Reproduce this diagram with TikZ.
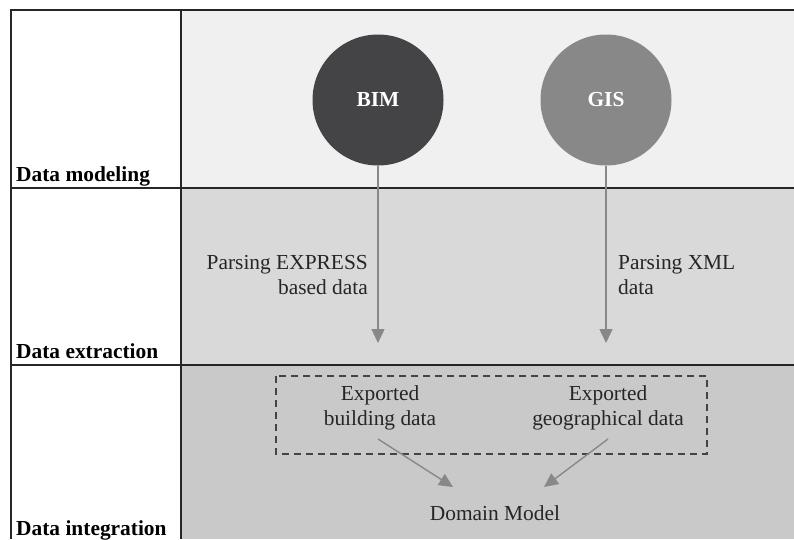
\documentclass[tikz,border=0pt]{standalone}
\usepackage{fontspec}
\setmainfont{Liberation Serif}
\usetikzlibrary{arrows.meta,calc}
\definecolor{rowA}{HTML}{F0F0F0}
\definecolor{rowB}{HTML}{D9D9D9}
\definecolor{rowC}{HTML}{C9C9C9}
\definecolor{bimcol}{HTML}{444446}
\definecolor{giscol}{HTML}{888888}
\definecolor{arrcol}{HTML}{888888}
\definecolor{dashcol}{HTML}{444444}
\tikzset{
  gridline/.style={line width=2pt, draw=black!85},
  rowlabel/.style={font=\fontsize{21.4}{25}\selectfont\bfseries, anchor=base west, inner sep=0pt},
  srcnode/.style={circle, minimum size=131pt, inner sep=0pt, text=white, font=\fontsize{21.4}{25}\selectfont\bfseries},
  txt/.style={font=\fontsize{21.4}{25}\selectfont, inner sep=0pt, text=black!85},
  arr/.style={draw=arrcol, line width=1.4pt, -{Triangle[length=14pt,width=13pt]}},
  groupbox/.style={draw=dashcol, line width=2pt, dash pattern=on 7pt off 5pt}
}
\begin{document}
\begin{tikzpicture}[x=1pt,y=-1pt]
\useasboundingbox (0,0) rectangle (794,539);
% row backgrounds
\fill[white] (11,10) rectangle (181,539);
\fill[rowA] (181,10) rectangle (794,188);
\fill[rowB] (181,188) rectangle (794,365);
\fill[rowC] (181,365) rectangle (794,539);
% grid
\draw[gridline] (11,539) -- (11,10) -- (794,10);
\draw[gridline] (181,10) -- (181,539);
\draw[gridline] (11,188) -- (794,188);
\draw[gridline] (11,365) -- (794,365);
% row labels
\node[rowlabel] (l1) at (16,181) {Data modeling};
\node[rowlabel] (l2) at (16,358) {Data extraction};
\node[rowlabel] (l3) at (16,535) {Data integration};
% sources
\node[srcnode, fill=bimcol] (bim) at (378,100) {BIM};
\node[srcnode, fill=giscol] (gis) at (606,100) {GIS};
\coordinate (bimend) at (378,343);
\coordinate (gisend) at (606,343);
\draw[arr] (bim.south) -- (bimend);
\draw[arr] (gis.south) -- (gisend);
\node[txt, align=right, anchor=east] (pe) at (368,275) {Parsing EXPRESS\\based data};
\node[txt, align=left, anchor=west] (px) at (618,275) {Parsing XML\\data};
% integration
\draw[groupbox] (276,376) rectangle (707,454);
\node[txt, align=center] (eb) at (380,408) {Exported\\building data};
\node[txt, align=center] (eg) at (608,408) {Exported\\geographical data};
\node[txt] (dm) at (495,513) {Domain Model};
\coordinate (ebs) at (378,439);
\coordinate (egs) at (608,439);
\coordinate (dmL) at (453,487);
\coordinate (dmR) at (544,487);
\draw[arr] (ebs) -- (dmL);
\draw[arr] (egs) -- (dmR);
\end{tikzpicture}
\end{document}
